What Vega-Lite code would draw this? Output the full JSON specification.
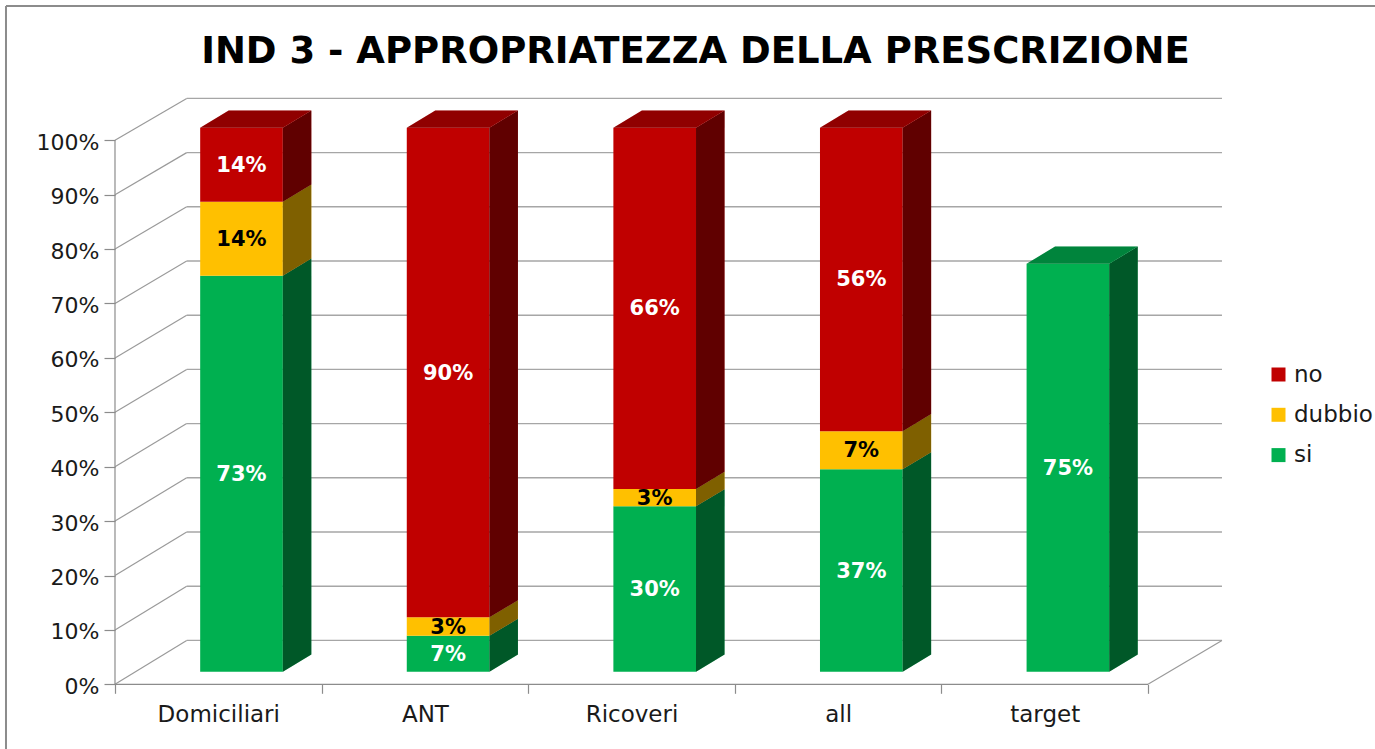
{
"$schema":"https://vega.github.io/schema/vega-lite/v6.json",
"width":1375,"height":749,"autosize":{"type":"none"},"padding":0,"background":"white",
"title":{"text":"IND 3 - APPROPRIATEZZA DELLA PRESCRIZIONE","font":"DejaVu Sans","fontSize":37,"fontWeight":"bold","color":"black","anchor":"middle","dx":8,"offset":-71,"frame":"group"},
"config":{"view":{"stroke":null}},
"params":[
{"name":"bw","value":0.4},{"name":"sx","value":0.1123},{"name":"sy","value":2.316},
{"name":"dx","value":0.138},{"name":"dy","value":3.15},
{"name":"backX","value":0.347},{"name":"backXEnd","value":5.358},
{"name":"frameX","value":-0.5276},{"name":"frameY","value":124.69}
],
"datasets":{
"bars":[
{"category":"Domiciliari","series":"si","value":72.8},{"category":"Domiciliari","series":"dubbio","value":13.6},{"category":"Domiciliari","series":"no","value":13.6},
{"category":"ANT","series":"si","value":6.6},{"category":"ANT","series":"dubbio","value":3.4},{"category":"ANT","series":"no","value":90.0},
{"category":"Ricoveri","series":"si","value":30.4},{"category":"Ricoveri","series":"dubbio","value":3.2},{"category":"Ricoveri","series":"no","value":66.4},
{"category":"all","series":"si","value":37.2},{"category":"all","series":"dubbio","value":7.0},{"category":"all","series":"no","value":55.8},
{"category":"target","series":"si","value":75}
],
"ticks":[{"t":0},{"t":10},{"t":20},{"t":30},{"t":40},{"t":50},{"t":60},{"t":70},{"t":80},{"t":90},{"t":100}]
},
"data":{"name":"bars"},
"transform":[
{"calculate":"indexof(['si','dubbio','no'],datum.series)","as":"order"},
{"calculate":"indexof(['Domiciliari','ANT','Ricoveri','all','target'],datum.category)","as":"idx"},
{"stack":"value","groupby":["category"],"sort":[{"field":"order","order":"ascending"}],"as":["s0","s1"]},
{"calculate":"datum.idx+0.5+sx-bw/2","as":"xL"},
{"calculate":"datum.idx+0.5+sx+bw/2","as":"xR"},
{"calculate":"datum.s0+sy","as":"yB"},
{"calculate":"datum.s1+sy","as":"yT"},
{"calculate":"format(datum.value,'.0f')+'%'","as":"label"}
],
"encoding":{
"x":{"field":"gx","type":"quantitative","title":null,"scale":{"domain":[-0.5566,6.0987],"nice":false,"zero":false},
"axis":{"orient":"bottom","offset":-64.7,"domain":false,"grid":false,"values":[0,0.5,1,1.5,2,2.5,3,3.5,4,4.5,5],"tickSize":9,"tickColor":"#8c8c8c","tickWidth":1.2,"tickOpacity":{"expr":"datum.value % 1 ? 0 : 1"},
"labelExpr":"datum.value % 1 ? ['Domiciliari','ANT','Ricoveri','all','target'][floor(datum.value)] : ''","labelFont":"DejaVu Sans","labelFontSize":23,"labelColor":"#1a1a1a","labelPadding":10,"labelOverlap":false,"labelBound":false,"labelFlush":false}},
"y":{"field":"gy","type":"quantitative","title":null,"stack":null,"scale":{"domain":[-11.893,125.79],"nice":false,"zero":false},
"axis":{"orient":"left","offset":-115,"domain":false,"grid":false,"values":[0,10,20,30,40,50,60,70,80,90,100],"tickSize":11,"tickColor":"#8c8c8c","tickWidth":1.2,"labelExpr":"datum.value+'%'","labelFont":"DejaVu Sans","labelFontSize":22,"labelColor":"#1a1a1a","labelPadding":5,"labelOffset":2,"labelOverlap":false,"labelBound":false,"labelFlush":false}}
},
"layer":[
{"data":{"name":"ticks"},"transform":[{"filter":"datum.t==0"},{"calculate":"frameX","as":"gx"},{"calculate":"frameY","as":"gy"},{"calculate":"-11.893","as":"gy2"}],
"mark":{"type":"rule","color":"#8c8c8c","strokeWidth":2},"encoding":{"y2":{"field":"gy2"},"x2":{"field":"gx"}}},
{"data":{"name":"ticks"},"transform":[{"filter":"datum.t==0"},{"calculate":"frameX","as":"gx"},{"calculate":"frameY","as":"gy"},{"calculate":"6.0987","as":"gx2"}],
"mark":{"type":"rule","color":"#8c8c8c","strokeWidth":2},"encoding":{"x2":{"field":"gx2"},"y2":{"field":"gy"}}},
{"data":{"name":"ticks"},"transform":[{"calculate":"backX","as":"gx"},{"calculate":"backXEnd","as":"gx2"},{"calculate":"8.07+0.9963*datum.t","as":"gy"}],
"mark":{"type":"rule","color":"#a6a6a6","strokeWidth":1.4},"encoding":{"x2":{"field":"gx2"},"y2":{"field":"gy"}}},
{"data":{"name":"ticks"},"transform":[{"calculate":"0","as":"gx"},{"calculate":"backX","as":"gx2"},{"calculate":"datum.t","as":"gy"},{"calculate":"8.07+0.9963*datum.t","as":"gy2"}],
"mark":{"type":"rule","color":"#9a9a9a","strokeWidth":1.2},"encoding":{"x2":{"field":"gx2"},"y2":{"field":"gy2"}}},
{"data":{"name":"ticks"},"transform":[{"filter":"datum.t==0"},{"calculate":"5","as":"gx"},{"calculate":"backXEnd","as":"gx2"},{"calculate":"0","as":"gy"},{"calculate":"8.07","as":"gy2"}],
"mark":{"type":"rule","color":"#9a9a9a","strokeWidth":1.2},"encoding":{"x2":{"field":"gx2"},"y2":{"field":"gy2"}}},
{"data":{"name":"ticks"},"transform":[{"filter":"datum.t==0"},{"calculate":"0","as":"gx"},{"calculate":"5","as":"gx2"},{"calculate":"0","as":"gy"}],
"mark":{"type":"rule","color":"#8c8c8c","strokeWidth":1.2},"encoding":{"x2":{"field":"gx2"},"y2":{"field":"gy"}}},
{"data":{"name":"ticks"},"transform":[{"filter":"datum.t==0"},{"calculate":"0","as":"gx"},{"calculate":"0","as":"gy"},{"calculate":"100","as":"gy2"}],
"mark":{"type":"rule","color":"#8c8c8c","strokeWidth":1.2},"encoding":{"x2":{"field":"gx"},"y2":{"field":"gy2"}}},
{"transform":[{"calculate":"datum.xL","as":"gx"},{"calculate":"datum.yB","as":"gy"}],
"mark":{"type":"rect"},
"encoding":{"x2":{"field":"xR"},"y2":{"field":"yT"},
"color":{"field":"series","type":"nominal","scale":{"domain":["no","dubbio","si"],"range":["#C00000","#FFC000","#00B050"]},
"legend":{"orient":"none","legendX":1267,"legendY":363,"title":null,"symbolType":"square","symbolSize":196,"symbolStrokeWidth":0,"labelFont":"DejaVu Sans","labelFontSize":23,"labelColor":"#1a1a1a","labelOffset":4,"rowPadding":16.3,"labelLimit":200,"symbolOpacity":1}}}},
{"transform":[{"calculate":"[0,1]","as":"p"},{"flatten":["p"]},{"calculate":"datum.xR+datum.p*dx","as":"gx"},{"calculate":"datum.yB+datum.p*dy","as":"gy"},{"calculate":"datum.yT+datum.p*dy","as":"gy2"}],
"mark":{"type":"area","interpolate":"linear"},
"encoding":{"y2":{"field":"gy2"},"detail":{"field":"category"},"color":{"field":"series","type":"nominal","legend":null}}},
{"transform":[{"calculate":"[0,1]","as":"p"},{"flatten":["p"]},{"calculate":"datum.xR+datum.p*dx","as":"gx"},{"calculate":"datum.yB+datum.p*dy","as":"gy"},{"calculate":"datum.yT+datum.p*dy","as":"gy2"}],
"mark":{"type":"area","interpolate":"linear","color":"black","opacity":0.5},
"encoding":{"y2":{"field":"gy2"},"detail":[{"field":"category"},{"field":"series"}]}},
{"transform":[{"joinaggregate":[{"op":"max","field":"s1","as":"m"}],"groupby":["category"]},{"filter":"datum.s1==datum.m"},{"calculate":"[0,1,2,3]","as":"p"},{"flatten":["p"]},
{"calculate":"[datum.xL,datum.xL+dx,datum.xR,datum.xR+dx][datum.p]","as":"gx"},
{"calculate":"datum.p==3?datum.yT+dy:datum.yT","as":"gy"},
{"calculate":"datum.p==0?datum.yT:datum.yT+dy","as":"gy2"}],
"mark":{"type":"area","interpolate":"linear"},
"encoding":{"y2":{"field":"gy2"},"detail":{"field":"category"},"color":{"field":"series","type":"nominal","legend":null}}},
{"transform":[{"joinaggregate":[{"op":"max","field":"s1","as":"m"}],"groupby":["category"]},{"filter":"datum.s1==datum.m"},{"calculate":"[0,1,2,3]","as":"p"},{"flatten":["p"]},
{"calculate":"[datum.xL,datum.xL+dx,datum.xR,datum.xR+dx][datum.p]","as":"gx"},
{"calculate":"datum.p==3?datum.yT+dy:datum.yT","as":"gy"},
{"calculate":"datum.p==0?datum.yT:datum.yT+dy","as":"gy2"}],
"mark":{"type":"area","interpolate":"linear","color":"black","opacity":0.25},
"encoding":{"y2":{"field":"gy2"},"detail":{"field":"category"}}},
{"transform":[{"calculate":"(datum.xL+datum.xR)/2","as":"gx"},{"calculate":"(datum.yB+datum.yT)/2","as":"gy"}],
"mark":{"type":"text","font":"DejaVu Sans","fontSize":21,"fontWeight":"bold","align":"center","baseline":"middle","dy":1},
"encoding":{"text":{"field":"label","type":"nominal"},"color":{"condition":{"test":"datum.series=='dubbio'","value":"black"},"value":"white"}}}
]
}
